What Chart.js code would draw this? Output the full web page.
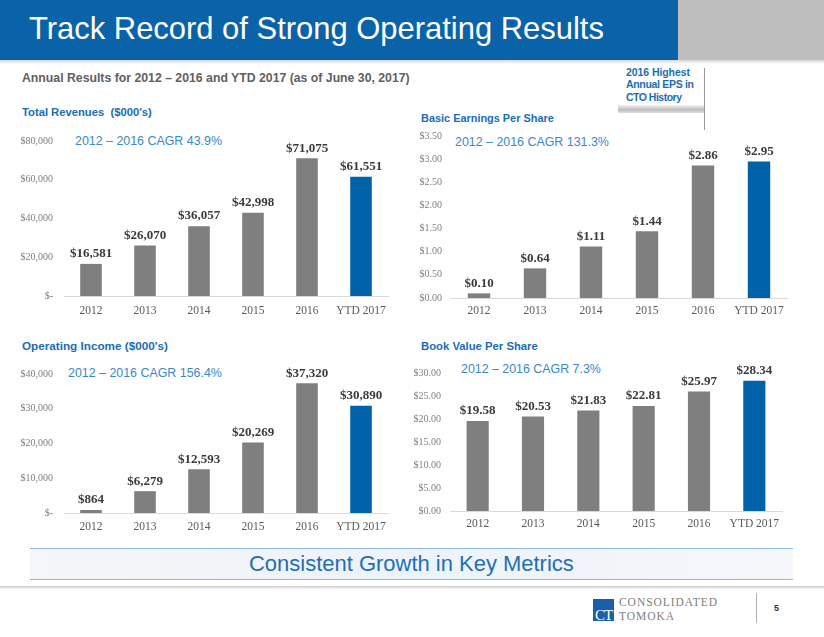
<!DOCTYPE html>
<html><head><meta charset="utf-8">
<script src="https://cdn.jsdelivr.net/npm/chart.js@4"></script>
<style>
body{margin:0;width:824px;height:637px;position:relative;overflow:hidden;background:#fff;font-family:"Liberation Sans",Arial,sans-serif;}
.t{position:absolute;white-space:nowrap;display:inline-block;}
.b{font-weight:bold;}
.blue{color:#1a6db5;}
.cagr{color:#3a88c9;font-size:15px;}
canvas{position:absolute;}
</style></head><body>
<div style="position:absolute;left:0;top:0;width:678px;height:60px;background:#0a63a8"></div>
<div style="position:absolute;left:678px;top:0;width:146px;height:60px;background:#bebebe"></div>
<div style="position:absolute;left:0;top:60px;width:824px;height:4px;background:linear-gradient(#d6d6d6,#fff)"></div>

<div class="t" style="left:29px;color:#fff;font-size:30px" data-cy="29" data-w="575">Track Record of Strong Operating Results</div>
<div class="t b" style="left:22px;color:#606060;font-size:12.5px" data-cy="78" data-w="388">Annual Results for 2012 – 2016 and YTD 2017 (as of June 30, 2017)</div>

<div class="t b blue" style="left:626px;font-size:10.5px" data-cy="72" data-w="64" data-fit="ls">2016 Highest</div>
<div class="t b blue" style="left:626px;font-size:10.5px" data-cy="84" data-w="68" data-fit="ls">Annual EPS in</div>
<div class="t b blue" style="left:626px;font-size:10.5px" data-cy="97" data-w="56" data-fit="ls">CTO History</div>
<div style="position:absolute;left:704px;top:68px;width:1px;height:62px;background:#9a9a9a"></div>
<div style="position:absolute;left:618px;top:105px;width:86px;height:8px;background:linear-gradient(#f2f2f2,#bdbdbd 60%,#e0e0e0)"></div>

<div class="t b blue" style="left:22px;font-size:12px" data-cy="113" data-w="130">Total Revenues&nbsp; ($000's)</div>
<div class="t b blue" style="left:421px;font-size:12px" data-cy="118" data-w="133">Basic Earnings Per Share</div>
<div class="t b blue" style="left:22px;font-size:12px" data-cy="346" data-w="146">Operating Income ($000's)</div>
<div class="t b blue" style="left:421px;font-size:12px" data-cy="347" data-w="117">Book Value Per Share</div>

<div class="t cagr" style="left:75px" data-cy="141" data-w="147">2012 – 2016 CAGR 43.9%</div>
<div class="t cagr" style="left:455px" data-cy="142" data-w="154">2012 – 2016 CAGR 131.3%</div>
<div class="t cagr" style="left:68px" data-cy="373" data-w="154">2012 – 2016 CAGR 156.4%</div>
<div class="t cagr" style="left:461px" data-cy="369" data-w="140">2012 – 2016 CAGR 7.3%</div>

<div style="position:absolute;left:30px;top:548px;width:763px;height:30px;background:linear-gradient(90deg,#f5f6f7,#edf3fa 50%,#f5f7fa);border-top:1.5px solid #8fb8de;border-bottom:1.5px solid #8fb8de"></div>
<div class="t" style="left:249px;color:#1f6fb5;font-size:21px" data-cy="564" data-w="325">Consistent Growth in Key Metrics</div>
<div style="position:absolute;left:0;top:586px;width:824px;height:3px;background:linear-gradient(#cfcfcf,#f4f4f4)"></div>

<div style="position:absolute;left:593px;top:599px;width:21px;height:22px;background:#1b5fa8;overflow:hidden">
  <div style="position:absolute;left:0;bottom:-3px;width:21px;text-align:center;color:#fff;font:15px 'Liberation Serif',serif;letter-spacing:-1px">CT</div>
</div>
<div class="t" style="left:619px;color:#808080;font-family:'Liberation Serif',serif;font-size:11.5px" data-cy="603" data-w="98" data-fit="ls">CONSOLIDATED</div>
<div class="t" style="left:619px;color:#808080;font-family:'Liberation Serif',serif;font-size:11.5px" data-cy="617" data-w="55" data-fit="ls">TOMOKA</div>
<div style="position:absolute;left:756px;top:593px;width:1px;height:30px;background:#b0b0b0"></div>
<div class="t b" style="left:774px;color:#333;font-size:9px" data-cy="608">5</div>

<script>
// ---- data ----
const categories = ['2012', '2013', '2014', '2015', '2016', 'YTD 2017'];
const revenues   = [16581, 26070, 36057, 42998, 71075, 61551];
const eps        = [0.10, 0.64, 1.11, 1.44, 2.86, 2.95];
const opIncome   = [864, 6279, 12593, 20269, 37320, 30890];
const bookValue  = [19.58, 20.53, 21.83, 22.81, 25.97, 28.34];
const revenueTicks = [0, 20000, 40000, 60000, 80000];
const epsTicks     = [0, 0.5, 1, 1.5, 2, 2.5, 3, 3.5];
const opTicks      = [0, 10000, 20000, 30000, 40000];
const bvTicks      = [0, 5, 10, 15, 20, 25, 30];

// ---- text fitting ----
document.querySelectorAll('.t').forEach(el => {
  let fs = parseFloat(getComputedStyle(el).fontSize);
  if (el.dataset.w) {
    const w = el.getBoundingClientRect().width;
    const target = parseFloat(el.dataset.w);
    if (el.dataset.fit === 'ls') {
      el.style.letterSpacing = ((target - w) / Math.max(1, el.textContent.length - 1)) + 'px';
    } else {
      fs = fs * target / w;
      el.style.fontSize = fs + 'px';
    }
  }
  el.style.lineHeight = fs + 'px';
  el.style.top = (parseFloat(el.dataset.cy) - fs / 2) + 'px';
});

const money0 = v => v === 0 ? '$-' : '$' + Math.round(v).toLocaleString('en-US');
const money2 = v => '$' + Number(v).toFixed(2);
const GRAY = '#7f7f7f', BLUE = '#0062a8';
const barColors = categories.map((c, i) => i === categories.length - 1 ? BLUE : GRAY);
const serif = '"Liberation Serif","Times New Roman",serif';

function makeChart(box, values, ticks, fmt, yPad, xPad) {
  const YW = 70, PT = 22, PR = 10, XH = 30;
  const cv = document.createElement('canvas');
  const W = box.r - box.l + YW + PR, H = box.b - box.t + PT + XH;
  cv.width = W; cv.height = H;
  cv.style.left = (box.l - YW) + 'px'; cv.style.top = (box.t - PT) + 'px';
  cv.style.width = W + 'px'; cv.style.height = H + 'px';
  document.body.appendChild(cv);
  const labels = {
    id: 'valueLabels',
    afterDatasetsDraw(chart) {
      const ctx = chart.ctx, meta = chart.getDatasetMeta(0);
      ctx.save();
      ctx.font = 'bold 13px ' + serif;
      ctx.fillStyle = '#3a3a3a';
      ctx.textAlign = 'center'; ctx.textBaseline = 'middle';
      meta.data.forEach((bar, i) => ctx.fillText(fmt(values[i]), bar.x, bar.y - 10));
      ctx.restore();
    }
  };
  new Chart(cv, {
    type: 'bar',
    data: { labels: categories, datasets: [{ data: values, backgroundColor: barColors,
      barPercentage: 0.4, categoryPercentage: 1.0 }] },
    options: {
      responsive: false, animation: false, devicePixelRatio: 1,
      layout: { padding: { top: PT, right: PR, left: 0, bottom: 0 } },
      plugins: { legend: { display: false }, tooltip: { enabled: false } },
      scales: {
        x: {
          grid: { display: false, drawTicks: false },
          border: { display: true, color: '#d9d9d9', width: 1 },
          ticks: { color: '#595959', font: { family: serif, size: 11.5 }, padding: xPad, maxRotation: 0, autoSkip: false },
          afterFit: s => { s.height = XH; }
        },
        y: {
          min: ticks[0], max: ticks[ticks.length - 1],
          grid: { display: false, drawTicks: false },
          border: { display: false },
          afterBuildTicks: s => { s.ticks = ticks.map(v => ({ value: v })); },
          ticks: { color: '#808080', font: { family: serif, size: 10 }, padding: yPad, callback: v => fmt(v) },
          afterFit: s => { s.width = YW; }
        }
      }
    },
    plugins: [labels]
  });
}

makeChart({ l: 64, r: 388, t: 141, b: 296 }, revenues, revenueTicks, money0, 11, 8);
makeChart({ l: 451, r: 787, t: 136, b: 298 }, eps, epsTicks, money2, 9, 6);
makeChart({ l: 64, r: 388, t: 374, b: 513 }, opIncome, opTicks, money0, 11, 7);
makeChart({ l: 450, r: 782, t: 373, b: 511 }, bookValue, bvTicks, money2, 9, 6);
</script>
</body></html>
